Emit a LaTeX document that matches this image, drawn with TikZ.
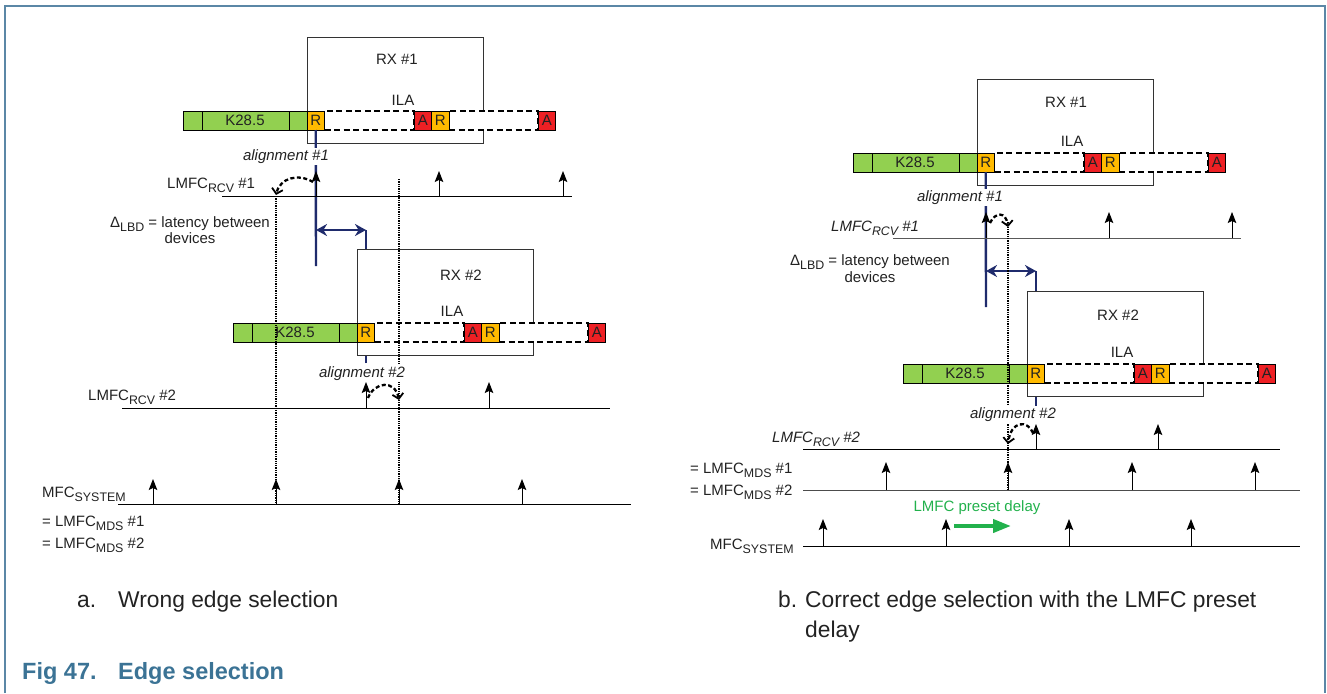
\documentclass[tikz,border=0pt]{standalone}
\usepackage{fontspec}
\setmainfont{Liberation Sans}
\usetikzlibrary{arrows.meta}
\definecolor{frameblue}{HTML}{5B87A6}
\definecolor{figblue}{HTML}{3B7395}
\definecolor{cgreen}{HTML}{92D050}
\definecolor{camber}{HTML}{FFBA00}
\definecolor{cred}{HTML}{EE2024}
\definecolor{navy}{HTML}{1F2B6C}
\definecolor{pgreen}{HTML}{22B14C}
\definecolor{txt}{HTML}{222222}
\newcommand\lsub[1]{\raisebox{-4.5pt}{\fontsize{12.4}{12}\selectfont #1}}
\newcommand\dfont{\fontsize{15}{17}\selectfont}
\newcommand\cfont{\fontsize{22.8}{26}\selectfont}
\newcommand\ffont{\fontsize{23.5}{26}\selectfont\bfseries}
\newcommand\ilabar[3]{%
\begin{scope}[shift={(#2,#3)}]
\node[dashcell, minimum width=89.5pt] (#1d1) at (141.5,0) {};
\node[dashcell, minimum width=89pt] (#1d2) at (266,0) {};
\node[cellbase, fill=cgreen, minimum width=124pt] (#1k) at (0,0) {K28.5};
\draw[line width=0.6pt] (#1k.north west) ++(19,0) -- ++(0,19) (#1k.north west) ++(106,0) -- ++(0,19);
\node[cellbase, fill=camber, minimum width=17.5pt] (#1r1) at (124,0) {R};
\node[cellbase, fill=cred, minimum width=17.5pt] (#1a1) at (231,0) {A};
\node[cellbase, fill=camber, minimum width=17.5pt] (#1r2) at (248.5,0) {R};
\node[cellbase, fill=cred, minimum width=17.5pt] (#1a2) at (355,0) {A};
\end{scope}}
\begin{document}
\begin{tikzpicture}[x=1pt,y=-1pt,
  every node/.style={font=\dfont, text=txt},
  cellbase/.style={draw=black, line width=0.6pt, anchor=north west, minimum height=19pt, inner sep=0pt, outer sep=0pt},
  dashcell/.style={cellbase, fill=white, line width=1.7pt, dash pattern=on 6pt off 3.5pt},
  rxbox/.style={draw=black!80, line width=0.8pt, fill=white, anchor=north west, inner sep=0pt},
  lbl/.style={inner sep=0pt},
  itlbl/.style={inner sep=0pt, font=\dfont\itshape},
  alnode/.style={font=\dfont\itshape, fill=white, inner sep=1.5pt},
  tline/.style={line width=0.9pt, black},
  uptick/.style={line width=1pt, -{Stealth[length=11pt,width=8.5pt,inset=2pt]}},
  dotline/.style={line width=1.7pt, dash pattern=on 1.3pt off 1pt},
  curvy/.style={line width=2.3pt, dash pattern=on 4pt off 2.5pt, -{Straight Barb[length=5pt,width=11pt,line width=1.8pt]}},
  blueline/.style={navy, line width=2.4pt},
  bluearrow/.style={navy, line width=2.4pt, {Stealth[length=11pt,width=12pt]}-{Stealth[length=11pt,width=12pt]}}
]
\useasboundingbox (0,0) rectangle (1327,693);
% frame
\draw[frameblue, line width=1.6pt] (5,693) -- (5,6) -- (1325,6) -- (1325,693);

% ================= panel a =================
\draw[blueline] (366,363) -- (366,230);
\node[rxbox, minimum width=176pt, minimum height=106pt] (rxa1) at (307,37) {};
\node (rxa1t) at (397,59) {RX \#1};
\node (ilaa1) at (403,100) {ILA};
\ilabar{a1}{183}{111}
\node[rxbox, minimum width=176pt, minimum height=106pt] (rxa2) at (357,249) {};
\node (rxa2t) at (461,275) {RX \#2};
\node (ilaa2) at (452,311) {ILA};
\ilabar{a2}{233}{323}
\draw[blueline] (a1r1.south) -- (316,266);
\draw[bluearrow] (316,230) -- (366,230);

% timelines a
\draw[tline] (222,196) -- (572,196);
\draw[tline] (122,408) -- (610,408);
\draw[tline] (118,504) -- (631,504);
\foreach \x in {316,439,563} \draw[uptick] (\x,196) -- (\x,171);
\foreach \x in {366,489} \draw[uptick] (\x,408) -- (\x,382);
\foreach \x in {153,276,399,522} \draw[uptick] (\x,504) -- (\x,479);
\draw[dotline] (276,196) -- (276,504);
\draw[dotline] (399,179) -- (399,504);

% labels a
\node[lbl, anchor=base west] (lrcv1a) at (167,188) {LMFC\lsub{RCV} \#1};
\node[lbl, anchor=base west] (lrcv2a) at (88,400) {LMFC\lsub{RCV} \#2};
\node[lbl, anchor=base] (lbd1a) at (190,227) {Δ\lsub{LBD} = latency between};
\node[lbl, anchor=base] (lbd2a) at (190,243) {devices};
\node[alnode, anchor=base] (al1a) at (286,160) {alignment \#1};
\node[alnode, anchor=base] (al2a) at (362,377) {alignment \#2};
\node[lbl, anchor=base west] (mfca) at (42,497) {MFC\lsub{SYSTEM}};
\node[lbl, anchor=base west] (mds1a) at (42,526) {= LMFC\lsub{MDS} \#1};
\node[lbl, anchor=base west] (mds2a) at (42,548) {= LMFC\lsub{MDS} \#2};
\draw[curvy] (313,182) .. controls (298,173) and (280,178) .. (276,195);
\draw[curvy] (368,398) .. controls (374,382) and (395,379) .. (399,400);

% ================= panel b =================
\draw[blueline] (1036,406) -- (1036,271);
\node[rxbox, minimum width=176pt, minimum height=106pt] (rxb1) at (977,79) {};
\node (rxb1t) at (1066,102) {RX \#1};
\node (ilab1) at (1072,141) {ILA};
\ilabar{b1}{853}{153}
\node[rxbox, minimum width=176pt, minimum height=105pt] (rxb2) at (1027,291) {};
\node (rxb2t) at (1118,315) {RX \#2};
\node (ilab2) at (1122,352) {ILA};
\ilabar{b2}{903}{364}
\draw[blueline] (b1r1.south) -- (986,307);
\draw[bluearrow] (986,271) -- (1036,271);

% timelines b
\draw[tline, black!65] (893,238) -- (1241,238);
\draw[tline] (803,449) -- (1280,449);
\draw[tline, black!70] (803,490) -- (1300,490);
\draw[tline] (803,546) -- (1300,546);
\foreach \x in {986,1109,1232} \draw[uptick] (\x,238) -- (\x,212);
\foreach \x in {1036,1158} \draw[uptick] (\x,449) -- (\x,424);
\foreach \x in {886,1008,1132,1255} \draw[uptick] (\x,490) -- (\x,462);
\foreach \x in {823,946,1069,1191} \draw[uptick] (\x,546) -- (\x,519);
\draw[dotline] (1008,222) -- (1008,490);

% labels b
\node[alnode, anchor=base] (al1b) at (960,201) {alignment \#1};
\node[itlbl, anchor=base west] (lrcv1b) at (831,231) {LMFC\lsub{RCV} \#1};
\node[lbl, anchor=base] (lbd1b) at (870,265) {Δ\lsub{LBD} = latency between};
\node[lbl, anchor=base] (lbd2b) at (870,282) {devices};
\node[alnode, anchor=base] (al2b) at (1013,418) {alignment \#2};
\node[itlbl, anchor=base west] (lrcv2b) at (772,442) {LMFC\lsub{RCV} \#2};
\node[lbl, anchor=base west] (mds1b) at (690,473) {= LMFC\lsub{MDS} \#1};
\node[lbl, anchor=base west] (mds2b) at (690,495) {= LMFC\lsub{MDS} \#2};
\node[lbl, anchor=base west] (mfcb) at (710,549) {MFC\lsub{SYSTEM}};
\node[lbl, anchor=base, text=pgreen] (preset) at (977,511) {LMFC preset delay};
\coordinate (pa) at (954,526);
\coordinate (pb) at (1011,526);
\draw[pgreen, line width=4pt, -{Triangle[length=18pt,width=13pt]}] (pa) -- (pb);
\draw[curvy] (990,223) .. controls (995,212) and (1006,211) .. (1008,227);
\draw[curvy] (1033,433) .. controls (1028,420) and (1011,420) .. (1008,444);

% captions
\node[lbl, anchor=base west, font=\cfont] (capa) at (77,607) {\makebox[41pt][l]{a.}Wrong edge selection};
\node[lbl, anchor=base west, font=\cfont] (capb) at (778,607) {\makebox[27pt][l]{b.}Correct edge selection with the LMFC preset};
\node[lbl, anchor=base west, font=\cfont] (capb2) at (805,637) {delay};
\node[lbl, anchor=base west, font=\ffont, text=figblue] (fig) at (22,679) {\makebox[96pt][l]{Fig 47.}Edge selection};
\end{tikzpicture}
\end{document}
